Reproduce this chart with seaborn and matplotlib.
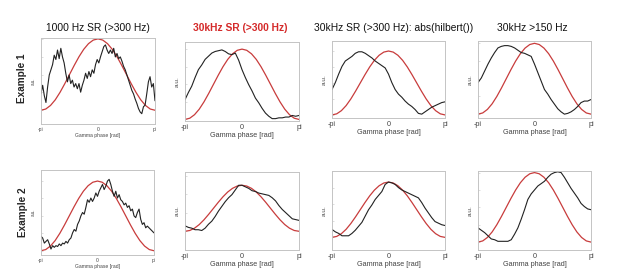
import numpy as np
import matplotlib
matplotlib.use('Agg')
import matplotlib.pyplot as plt
import seaborn as sns

# reference gamma wave, one cycle from -pi to pi (a.u., 0..1)
gamma_ref = [0.0, 0.017, 0.067, 0.146, 0.25, 0.371, 0.5, 0.629, 0.75, 0.854, 0.933, 0.983, 1.0,
             0.983, 0.933, 0.854, 0.75, 0.629, 0.5, 0.371, 0.25, 0.146, 0.067, 0.017, 0.0]

# black traces (fraction of panel height), sampled evenly from -pi to pi
ex1_1000hz = [0.35, 0.45, 0.33, 0.25, 0.43, 0.57, 0.63, 0.69, 0.80, 0.75, 0.86, 0.76, 0.88, 0.78,
              0.71, 0.59, 0.49, 0.57, 0.47, 0.51, 0.43, 0.47, 0.41, 0.47, 0.37, 0.45, 0.51, 0.59,
              0.53, 0.61, 0.55, 0.63, 0.59, 0.69, 0.75, 0.71, 0.78, 0.84, 0.90, 0.92, 0.86, 0.82,
              0.86, 0.82, 0.88, 0.78, 0.82, 0.76, 0.78, 0.73, 0.67, 0.63, 0.57, 0.51, 0.45, 0.39,
              0.35, 0.29, 0.24, 0.18, 0.14, 0.12, 0.20, 0.22, 0.35, 0.49, 0.55, 0.43, 0.47, 0.27]
ex1_30khz = [0.27, 0.36, 0.44, 0.55, 0.65, 0.71, 0.78, 0.82, 0.86, 0.88, 0.89, 0.90, 0.88, 0.85,
             0.84, 0.86, 0.77, 0.65, 0.55, 0.46, 0.38, 0.29, 0.23, 0.16, 0.10, 0.06, 0.03, 0.03,
             0.04, 0.04, 0.05, 0.05, 0.07, 0.06, 0.07]
ex1_hilbert = [0.37, 0.46, 0.57, 0.67, 0.74, 0.77, 0.80, 0.84, 0.86, 0.86, 0.84, 0.81, 0.78, 0.74,
               0.71, 0.68, 0.65, 0.57, 0.46, 0.37, 0.31, 0.27, 0.22, 0.18, 0.15, 0.11, 0.06, 0.05,
               0.08, 0.11, 0.14, 0.16, 0.18, 0.20, 0.21]
ex1_150hz = [0.46, 0.52, 0.61, 0.70, 0.78, 0.85, 0.91, 0.93, 0.94, 0.94, 0.93, 0.91, 0.88, 0.85,
             0.84, 0.82, 0.80, 0.70, 0.59, 0.48, 0.37, 0.31, 0.24, 0.18, 0.12, 0.08, 0.05, 0.06,
             0.08, 0.11, 0.15, 0.20, 0.22, 0.22, 0.24]
ex2_1000hz = [0.22, 0.20, 0.14, 0.16, 0.18, 0.13, 0.07, 0.11, 0.09, 0.11, 0.10, 0.13, 0.11, 0.14,
              0.13, 0.16, 0.14, 0.18, 0.20, 0.26, 0.30, 0.28, 0.36, 0.40, 0.46, 0.50, 0.48, 0.56,
              0.65, 0.62, 0.67, 0.63, 0.67, 0.73, 0.69, 0.75, 0.79, 0.83, 0.77, 0.81, 0.87, 0.89,
              0.83, 0.75, 0.69, 0.75, 0.67, 0.71, 0.65, 0.63, 0.59, 0.61, 0.56, 0.58, 0.52, 0.54,
              0.46, 0.44, 0.50, 0.54, 0.42, 0.36, 0.38, 0.32, 0.34, 0.32, 0.30, 0.28, 0.26]
ex2_30khz = [0.31, 0.29, 0.28, 0.26, 0.26, 0.25, 0.28, 0.33, 0.37, 0.43, 0.50, 0.56, 0.62, 0.67,
             0.71, 0.77, 0.83, 0.83, 0.81, 0.79, 0.76, 0.75, 0.73, 0.72, 0.71, 0.70, 0.67, 0.63,
             0.57, 0.52, 0.48, 0.44, 0.40, 0.39, 0.38]
ex2_hilbert = [0.26, 0.23, 0.21, 0.18, 0.18, 0.18, 0.21, 0.25, 0.30, 0.35, 0.43, 0.51, 0.57, 0.64,
               0.69, 0.74, 0.83, 0.86, 0.85, 0.83, 0.79, 0.76, 0.74, 0.72, 0.70, 0.68, 0.66, 0.60,
               0.53, 0.47, 0.41, 0.36, 0.34, 0.32, 0.31]
ex2_150hz = [0.28, 0.25, 0.22, 0.18, 0.14, 0.13, 0.11, 0.11, 0.11, 0.11, 0.13, 0.20, 0.28, 0.39,
             0.51, 0.64, 0.71, 0.76, 0.81, 0.84, 0.87, 0.92, 0.96, 0.98, 0.99, 0.98, 0.92, 0.85,
             0.78, 0.72, 0.66, 0.59, 0.55, 0.52, 0.51]

# where the gamma wave's trough / peak sit in each panel (fraction of height)
ref_span = [(0.16, 0.99), (0.02, 0.91), (0.04, 0.87), (0.05, 0.97),
            (0.05, 0.87), (0.24, 0.83), (0.16, 0.86), (0.10, 0.98)]

titles = ['1000 Hz SR (>300 Hz)', '30kHz SR (>300 Hz)',
          '30kHz SR (>300 Hz): abs(hilbert())', '30kHz >150 Hz']
title_x = [98, 240, 394, 532]
row_labels = ['Example 1', 'Example 2']
traces = [ex1_1000hz, ex1_30khz, ex1_hilbert, ex1_150hz,
          ex2_1000hz, ex2_30khz, ex2_hilbert, ex2_150hz]

# panel boxes in pixels: left, right, top, bottom
boxes = [(41, 155, 38, 124), (185, 299, 42, 121), (332, 445, 41, 118), (478, 591, 41, 118),
         (41, 154, 170, 255), (185, 299, 172, 250), (332, 445, 171, 250), (478, 591, 171, 250)]

sns.set_style('white')
plt.rcParams['font.family'] = ['Liberation Sans', 'DejaVu Sans']

W, H = 617, 280
fig = plt.figure(figsize=(W / 100, H / 100), dpi=100)

red = '#c83c3c'
grey = '#c4c4c4'

for i, (l, r, t, b) in enumerate(boxes):
    ax = fig.add_axes([l / W, 1 - b / H, (r - l) / W, (b - t) / H])
    small = i % 4 == 0
    fs = 3.6 if small else 5.2

    phase_ref = np.linspace(-np.pi, np.pi, len(gamma_ref))
    sns.lineplot(x=phase_ref, y=gamma_ref, ax=ax, color=red, lw=0.9)
    lo, hi = ref_span[i]
    ax.set_ylim(-lo / (hi - lo), (1 - lo) / (hi - lo))

    ax2 = ax.twinx()
    phase = np.linspace(-np.pi, np.pi, len(traces[i]))
    sns.lineplot(x=phase, y=traces[i], ax=ax2, color='#222222', lw=0.8)
    ax2.set_ylim(0, 1)
    ax2.set_yticks([])
    ax2.set_ylabel('')

    ax.set_xlim(-np.pi, np.pi)
    ax.set_xticks([-np.pi, 0, np.pi])
    ax.set_xticklabels(['-pi', '0', 'pi'])
    ax.yaxis.set_major_locator(plt.MaxNLocator(5))
    ax.set_yticklabels([])
    ax.tick_params(direction='in', length=1.5, width=0.4, color=grey,
                   labelsize=fs, pad=2, labelcolor='#444444')
    ax.set_xlabel('Gamma phase [rad]', fontsize=fs, color='#444444', labelpad=1)
    ax.set_ylabel('a.u.', fontsize=fs * 0.9, color='#444444', labelpad=2)
    for a in (ax, ax2):
        for s in a.spines.values():
            s.set_color(grey)
            s.set_linewidth(0.6)

for j, txt in enumerate(titles):
    if j == 1:
        fig.text(title_x[j] / W, 1 - 28 / H, txt, ha='center', va='center',
                 fontsize=7.4, color='#d42a2a', fontweight='bold')
    else:
        fig.text(title_x[j] / W, 1 - 28 / H, txt, ha='center', va='center',
                 fontsize=7.4, color='#111111')

fig.text(22 / W, 1 - 78 / H, row_labels[0], rotation=90, ha='center', va='center',
         fontsize=7.2, fontweight='bold')
fig.text(23 / W, 1 - 212 / H, row_labels[1], rotation=90, ha='center', va='center',
         fontsize=7.2, fontweight='bold')

fig.savefig('out.png', dpi=100, facecolor='white')
